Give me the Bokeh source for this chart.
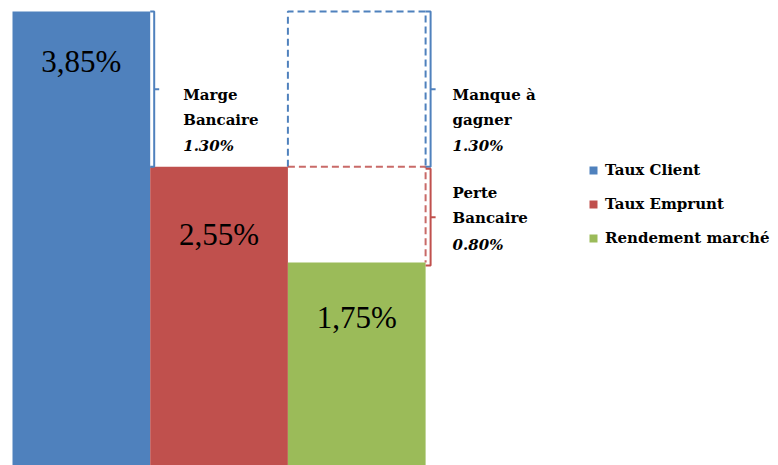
from bokeh.plotting import figure
from bokeh.models import Range1d, ColumnDataSource, Legend, LegendItem
from bokeh.core.properties import value
from bokeh.embed import file_html
from bokeh.resources import INLINE

categories = ["Taux Client", "Taux Emprunt", "Rendement marché"]
values = [3.85, 2.55, 1.75]
value_labels = ["3,85%", "2,55%", "1,75%"]
colors = ["#4F81BD", "#C0504D", "#9BBB59"]
label_offsets = [50, 68, 55]  # px below bar top

FONT = "Liberation Serif"
FONT_B = "DejaVu Serif"
W, H = 778, 465
kx = 137.7
ky = 119.5
X0 = -0.5 - 12 / kx
X1 = X0 + W / kx
Y1 = 3.85 + 11 / ky
Y0 = Y1 - H / ky

def ypx(iy):
    return Y1 - iy / ky

p = figure(width=W, height=H, x_range=Range1d(X0, X1), y_range=Range1d(Y0, Y1),
           output_backend="svg", toolbar_location=None, min_border=0,
           x_axis_location=None, y_axis_location=None)
p.grid.visible = False
p.outline_line_color = None
p.background_fill_color = "white"
p.border_fill_color = "white"

xs = list(range(len(values)))
src = ColumnDataSource(dict(x=xs, top=values, color=colors, name=categories,
                            lab=value_labels, off=label_offsets))
r = p.vbar(x="x", top="top", bottom=0, width=1, fill_color="color",
           line_color=None, source=src)

p.text(x="x", y="top", text="lab", y_offset="off", source=src,
       text_align="center", text_baseline="middle", text_font=value(FONT),
       text_font_size="31px", text_color="black")

blue, red = colors[0], colors[1]
d = 4 / kx
t = 5 / kx
xb = 0.5 + d
p.line([0.5, xb, xb, 0.5], [values[0], values[0], values[1], values[1]],
       line_color=blue, line_width=2)
mid = (values[0] + values[1]) / 2
p.line([xb, xb + t], [mid, mid], line_color=blue, line_width=2)

p.line([1.5, 1.5, 2.5, 2.5], [values[1], values[0], values[0], values[1]],
       line_color=blue, line_width=2, line_dash="7 4")
p.line([1.5, 2.5, 2.5], [values[1], values[1], values[2]],
       line_color=red, line_width=2, line_dash="7 4", line_alpha=0.85)

xr = 2.5 + 5 / kx
p.line([2.5, xr, xr, 2.5], [values[0], values[0], values[1], values[1]],
       line_color=blue, line_width=2)
p.line([xr, xr + t], [mid, mid], line_color=blue, line_width=2)
ytop_r = values[1] - 2 / ky
ybot_r = values[2] - 3 / ky
p.line([2.5, xr, xr, 2.5], [ytop_r, ytop_r, ybot_r, ybot_r],
       line_color=red, line_width=2)
mid2 = (ytop_r + ybot_r) / 2
p.line([xr, xr + t], [mid2, mid2], line_color=red, line_width=2)

marge = values[0] - values[1]
perte = values[1] - values[2]

def annot(x, ys, lines, pct):
    p.text(x=[x, x], y=[ypx(ys[0]), ypx(ys[1])], text=lines,
           text_align="left", text_baseline="middle", text_font=value(FONT_B),
           text_font_size="15px", text_font_style="bold", text_color="black")
    p.text(x=[x], y=[ypx(ys[2])], text=[pct],
           text_align="left", text_baseline="middle", text_font=value(FONT_B),
           text_font_size="15px", text_font_style="bold italic", text_color="black")

annot(0.5 + 33 / kx, [94, 119, 145], ["Marge", "Bancaire"], f"{marge:.2f}%")
annot(2.5 + 27 / kx, [94, 119, 145], ["Manque à", "gagner"], f"{marge:.2f}%")
annot(2.5 + 27 / kx, [192, 217, 244], ["Perte", "Bancaire"], f"{perte:.2f}%")

items = [LegendItem(label=categories[i], renderers=[r], index=i) for i in range(len(categories))]
legend = Legend(items=items, location=(588, 465 - 160 - 88), padding=0, margin=0,
                glyph_width=10, glyph_height=10, label_height=20, spacing=14,
                label_standoff=7, label_text_font=FONT_B, label_text_font_size="15px",
                label_text_font_style="bold", label_text_color="black",
                border_line_color=None, background_fill_alpha=0)
p.add_layout(legend)

open("out.html", "w").write(file_html(p, INLINE))
